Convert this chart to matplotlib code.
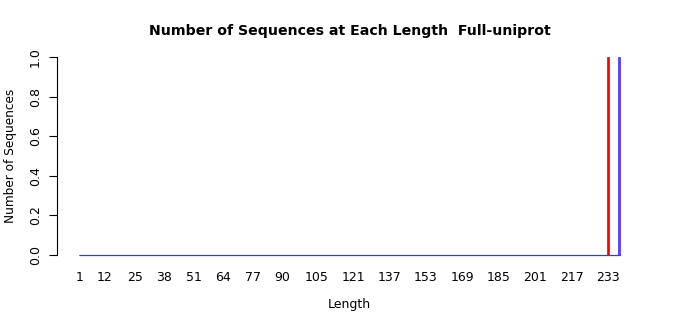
import matplotlib
matplotlib.use("Agg")
import matplotlib.pyplot as plt
import numpy as np

# dados: comprimentos 1..238, contagem por comprimento
comprimentos = list(range(1, 239))
contagens = [0] * 238
contagens[233 - 1] = 1
contagens[238 - 1] = 1

# cores de preenchimento das barras destacadas
destaques = {233: "#FF0000", 238: "#A020F0"}
cores = [destaques.get(c, "white") for c in comprimentos]

rotulos_x = [1, 12, 25, 38, 51, 64, 77, 90, 105, 121, 137, 153, 169, 185, 201, 217, 233]
ticks_y = [0.0, 0.2, 0.4, 0.6, 0.8, 1.0]

fig = plt.figure(figsize=(7, 3.15), dpi=100)
ax = fig.add_axes([0.082, 0.165, 0.835, 0.679])

largura = 1 / 1.2
esq = comprimentos[0] - largura / 2
dir_ = comprimentos[-1] + largura / 2

ax.bar(comprimentos, contagens, width=largura, color=cores,
       edgecolor="#3030FF", linewidth=0.5, zorder=2)
# bordas das barras de altura zero (linha de base azul, como no R)
ax.hlines(0, esq, dir_, color="#3535FF", linewidth=0.9, zorder=3)

pad = 0.04 * (dir_ - esq)
ax.set_xlim(esq - pad, dir_ + pad)
ax.set_ylim(-0.04, 1.04)

for s in ["top", "right", "bottom"]:
    ax.spines[s].set_visible(False)
ax.spines["left"].set_bounds(0, 1)
ax.spines["left"].set_linewidth(0.8)

ax.set_yticks(ticks_y)
ax.set_yticklabels([f"{v:.1f}" for v in ticks_y], rotation=90, va="center", fontsize=9)
ax.tick_params(axis="y", length=6, width=0.8, pad=5)

ax.set_xticks(rotulos_x)
ax.set_xticklabels([str(v) for v in rotulos_x], fontsize=9)
ax.tick_params(axis="x", length=0, pad=6)

ax.set_xlabel("Length", fontsize=9, labelpad=10)
ax.set_ylabel("Number of Sequences", fontsize=8.7, labelpad=9)
ax.set_title("Number of Sequences at Each Length  Full-uniprot",
             fontsize=10.2, fontweight="bold", pad=10)

fig.savefig("out.png", dpi=100)
